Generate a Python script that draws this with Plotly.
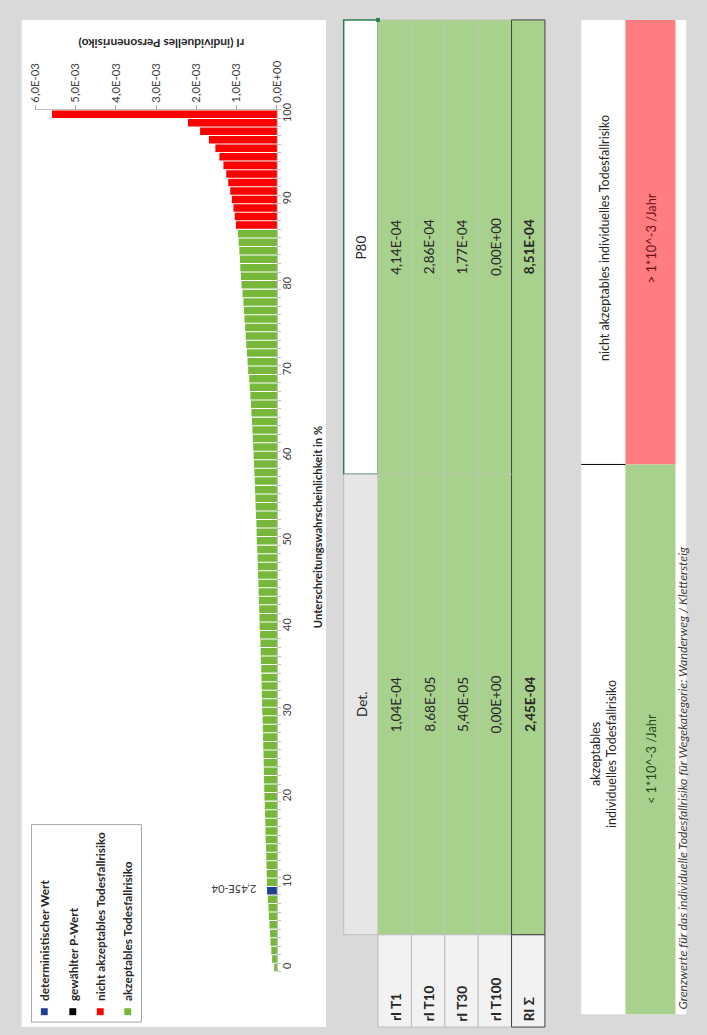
import plotly.graph_objects as go

# ---------------- data ----------------
percentiles = list(range(0, 101))
# individual risk rI per percentile, in units of 1E-03
ri_e3 = [
    0.07, 0.12, 0.14, 0.16, 0.17, 0.185, 0.20, 0.21, 0.225, 0.245,
    0.25, 0.255, 0.26, 0.265, 0.27, 0.28, 0.285, 0.29, 0.295, 0.30,
    0.31, 0.315, 0.32, 0.325, 0.33, 0.335, 0.34, 0.345, 0.35, 0.355,
    0.365, 0.37, 0.375, 0.38, 0.385, 0.39, 0.40, 0.405, 0.41, 0.42,
    0.43, 0.435, 0.44, 0.45, 0.455, 0.46, 0.47, 0.475, 0.48, 0.49,
    0.50, 0.505, 0.51, 0.52, 0.53, 0.535, 0.545, 0.55, 0.56, 0.57,
    0.58, 0.59, 0.60, 0.61, 0.62, 0.635, 0.645, 0.66, 0.675, 0.69,
    0.715, 0.73, 0.745, 0.76, 0.775, 0.79, 0.805, 0.82, 0.835, 0.855,
    0.88, 0.895, 0.91, 0.92, 0.935, 0.95, 0.97, 1.02, 1.05, 1.08,
    1.12, 1.16, 1.21, 1.26, 1.33, 1.43, 1.53, 1.69, 1.91, 2.21,
    5.59,
]
risk = [v * 1e-3 for v in ri_e3]
threshold = 1e-3
deterministic_percentile = 9
deterministic_label = "2,45E-04"

x_tick_vals = [0, 0.001, 0.002, 0.003, 0.004, 0.005, 0.006]
x_tick_text = ["0,0E+00", "1,0E-03", "2,0E-03", "3,0E-03", "4,0E-03", "5,0E-03", "6,0E-03"]
y_tick_vals = [0, 10, 20, 30, 40, 50, 60, 70, 80, 90, 100]
y_tick_text = ["0", "10", "20", "30", "40", "50", "60", "70", "80", "90", "100"]

legend_labels = ["deterministischer Wert", "gewählter P-Wert",
                 "nicht akzeptables Todesfallrisiko", "akzeptables Todesfallrisiko"]
legend_colors = ["#1c3f94", "#000000", "#ff0000", "#77b83a"]

row_labels = ["rI T1", "rI T10", "rI T30", "rI T100", "RI Σ"]
det_values = ["1,04E-04", "8,68E-05", "5,40E-05", "0,00E+00", "2,45E-04"]
p80_values = ["4,14E-04", "2,86E-04", "1,77E-04", "0,00E+00", "8,51E-04"]

# ---------------- helpers ----------------
W, H = 707, 1035
FONT = "Lato"


def px(x):
    return x / W


def py(y):
    return 1 - y / H


shapes = []
annotations = []


def rect(x0, y0, x1, y1, fill, line="rgba(0,0,0,0)", lw=0, layer="below"):
    shapes.append(dict(type="rect", xref="paper", yref="paper",
                       x0=px(x0), x1=px(x1), y0=py(y1), y1=py(y0),
                       fillcolor=fill, line=dict(color=line, width=lw), layer=layer))


def hline(x0, x1, y, color, lw=1):
    shapes.append(dict(type="line", xref="paper", yref="paper",
                       x0=px(x0), x1=px(x1), y0=py(y), y1=py(y),
                       line=dict(color=color, width=lw), layer="below"))


def text(x, y, s, size=11, color="#262626", angle=-90, bold=False, italic=False,
         xanchor="center", yanchor="middle", family=FONT):
    if bold:
        s = "<b>" + s + "</b>"
    if italic:
        s = "<i>" + s + "</i>"
    annotations.append(dict(xref="paper", yref="paper", x=px(x), y=py(y), text=s,
                            showarrow=False, textangle=angle, xanchor=xanchor,
                            yanchor=yanchor, font=dict(size=size, color=color, family=family)))


# ---------------- panels ----------------
rect(15, 12, 325, 1027, "#ffffff")

# legend
rect(25, 823, 137, 1022, "#ffffff", "#a6a6a6", 1)
leg_x = [38, 67, 95, 123]
for lx, lab, col in zip(leg_x, legend_labels, legend_colors):
    rect(lx - 3.5, 1008, lx + 3.5, 1015, col, layer="above")
    text(lx, 1003, lab, size=11.8, color="#262626", bold=True, yanchor="bottom")

# chart titles
text(157, 36, "rI (individuelles Personenrisiko)", size=12, bold=True, angle=180)
text(317, 523, "Unterschreitungswahrscheinlichkeit in %", size=11.2, bold=True)
text(231, 889, deterministic_label, size=11, color="#404040", angle=180)

# table
TS = 13.5
rect(343, 12, 378, 470, "#ffffff", "#2e7d4f", 1.5)
rect(343, 470, 378, 934, "#e6e6e6", "#bdbdbd", 1)
text(361, 241, "P80", size=TS)
text(361, 702, "Det.", size=TS)
strip_x = [378, 412, 446, 480, 514, 548]
for i, lab in enumerate(row_labels):
    x0, x1 = strip_x[i], strip_x[i + 1]
    last = i == len(row_labels) - 1
    rect(x0, 12, x1, 934, "#a9d18e", "#404040" if last else "#bcc9b0", 1)
    rect(x0, 934, x1, 1027, "#f2f2f2", "#404040" if last else "#bdbdbd", 1)
    xc = (x0 + x1) / 2 + 1
    text(xc, 241, p80_values[i], size=TS, bold=last)
    text(xc, 702, det_values[i], size=TS, bold=last)
    text(xc, 1023, lab, size=TS, bold=True, yanchor="bottom")
hline(378, 514, 470, "#bcc9b0", 1)
rect(376, 10, 380, 14, "#2e7d4f", layer="above")

# limits panel
rect(585, 12, 692, 1014, "#ffffff")
rect(630, 12, 681, 460, "#ff7c80")
rect(630, 460, 681, 1014, "#a9d18e")
hline(585, 630, 460, "#000000", 1)
text(608, 232, "nicht akzeptables individuelles Todesfallrisiko", size=12.5)
text(656, 232, "> 1*10^-3 /Jahr", size=12.8, color="#6b1010")
text(607, 752, "akzeptables<br>individuelles Todesfallrisiko", size=12.5)
text(656, 757, "< 1*10^-3 /Jahr", size=12.8, color="#1f4d1a")
text(688, 1011, "Grenzwerte für das individuelle Todesfallrisiko für Wegekategorie: Wanderweg / Klettersteig",
     size=12.3, italic=True, color="#404040", yanchor="bottom")

# ---------------- bars ----------------
colors = []
for p, v in zip(percentiles, risk):
    if p == deterministic_percentile:
        colors.append(legend_colors[0])
    elif v > threshold:
        colors.append(legend_colors[2])
    else:
        colors.append(legend_colors[3])

fig = go.Figure(go.Bar(x=risk, y=percentiles, orientation="h",
                       marker=dict(color=colors, line=dict(width=0)),
                       hoverinfo="skip"))

fig.update_layout(
    width=W, height=H,
    margin=dict(l=0, r=0, t=0, b=0),
    paper_bgcolor="#d9d9d9",
    plot_bgcolor="rgba(0,0,0,0)",
    bargap=0.12,
    showlegend=False,
    shapes=shapes,
    annotations=annotations,
    xaxis=dict(domain=[px(29), px(275)], range=[0.006, 0], side="top",
               tickmode="array", tickvals=x_tick_vals, ticktext=x_tick_text,
               tickangle=-90, ticks="outside", ticklen=4, tickcolor="#a6a6a6",
               showline=True, linecolor="#bfbfbf", showgrid=False, zeroline=False,
               tickfont=dict(size=11.3, family=FONT, color="#404040")),
    yaxis=dict(domain=[py(971.3), py(102.7)], range=[-0.5, 100.5], side="right",
               tickmode="array", tickvals=y_tick_vals, ticktext=y_tick_text,
               tickangle=-90, ticks="", showline=True, linecolor="#bfbfbf",
               showgrid=False, zeroline=False,
               minor=dict(tickmode="linear", tick0=0.5, dtick=1, ticks="outside",
                          ticklen=3, tickcolor="#bfbfbf", showgrid=False),
               tickfont=dict(size=11, family=FONT, color="#404040")),
)

fig.write_html("out.html", config={"displayModeBar": False},
               post_script="document.body.style.margin='0';document.body.style.overflow='hidden';document.body.style.background='#d9d9d9';")
